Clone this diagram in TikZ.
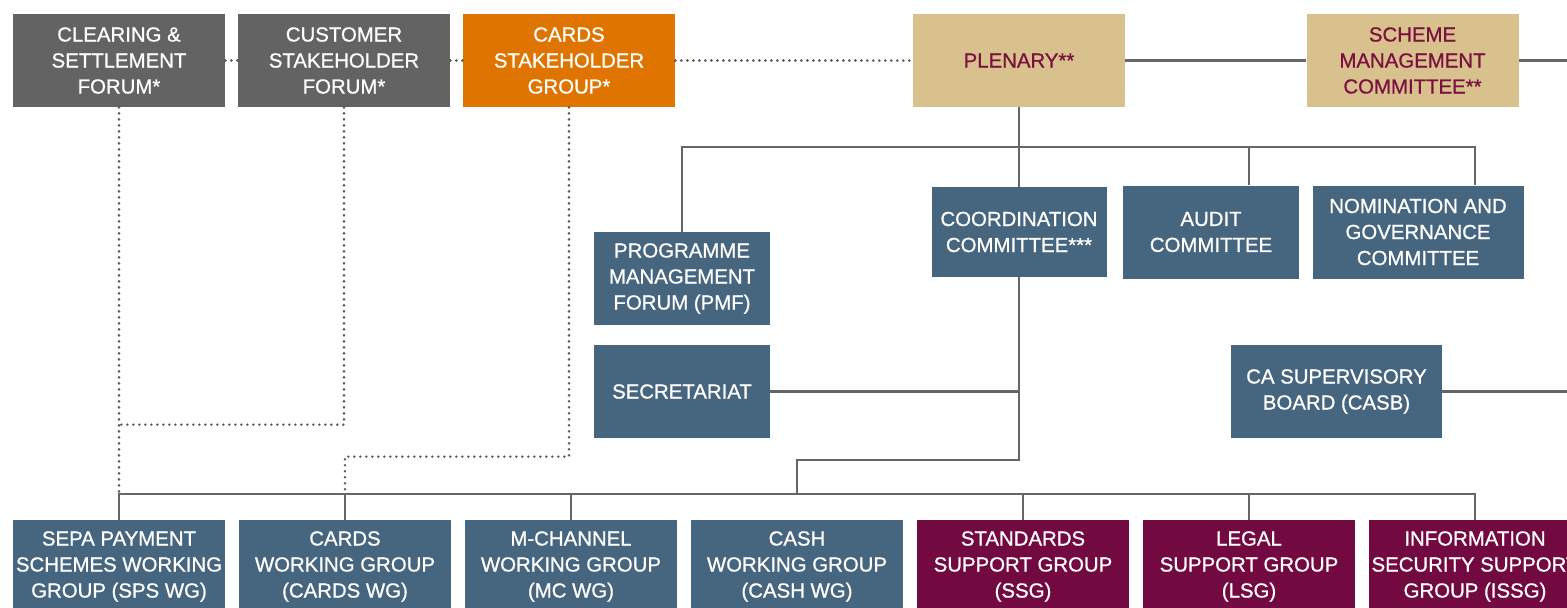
\documentclass[tikz,border=0pt]{standalone}
\usepackage{fontspec}
\setmainfont{Liberation Sans}[FakeBold=0.8]
\usepackage{tikz}
\usetikzlibrary{shapes.geometric, arrows}
\definecolor{forumgray}{HTML}{636363}
\definecolor{cardorange}{HTML}{DF7500}
\definecolor{boardtan}{HTML}{D8C18C}
\definecolor{boardtext}{HTML}{7B1142}
\definecolor{commblue}{HTML}{46657E}
\definecolor{supportred}{HTML}{720A41}
\definecolor{linegray}{HTML}{666666}
\tikzstyle{forum} = [rectangle, 
minimum width=4.24cm, 
minimum height=1.86cm, 
inner sep=0pt, 
align=center, 
text=white, 
font=\fontsize{11.6}{14.8}\selectfont, 
fill=forumgray]
\tikzstyle{board} = [forum, fill=boardtan, text=boardtext]
\tikzstyle{comm} = [forum, minimum width=3.52cm, fill=commblue]
\tikzstyle{wg} = [forum, fill=commblue]
\tikzstyle{sg} = [forum, fill=supportred]
\tikzstyle{link} = [draw=linegray, line width=1.2pt]
\tikzstyle{dots} = [draw=linegray!90!black, line width=1.6pt, line cap=round, dash pattern=on 0pt off 0.12cm]

\begin{document}
\begin{tikzpicture}[node distance=4.5cm]
\useasboundingbox (0,0) rectangle (31.34,-12.14);

% top row
\node (csf) [forum] at (2.38,-1.21) {CLEARING \&\\SETTLEMENT\\FORUM*};
\node (cust) [forum, right of=csf] {CUSTOMER\\STAKEHOLDER\\FORUM*};
\node (cardsg) [forum, right of=cust, fill=cardorange] {CARDS\\STAKEHOLDER\\GROUP*};
\node (plenary) [board, right of=cardsg, xshift=4.5cm] {PLENARY**};
\node (smc) [board, right of=plenary, xshift=3.37cm] {SCHEME\\MANAGEMENT\\COMMITTEE**};
\draw[dots] (csf) -- (cust);
\draw[dots] (cust) -- (cardsg);
\draw[dots] (cardsg) -- (plenary);
\draw[link] (plenary) -- (smc);
\draw[link] (smc.east) -- ++(1,0);

% committees
\node (coord) [comm, below of=plenary, yshift=1.07cm, minimum width=3.5cm, minimum height=1.8cm] {COORDINATION\\COMMITTEE***};
\node (audit) [comm, right of=coord, xshift=-0.66cm] {AUDIT\\COMMITTEE};
\node (ngc) [comm, right of=audit, xshift=-0.36cm, minimum width=4.22cm] {NOMINATION AND\\GOVERNANCE\\COMMITTEE};
\node (pmf) [comm, left of=coord, xshift=-2.24cm, yshift=-0.93cm] {PROGRAMME\\MANAGEMENT\\FORUM (PMF)};
\node (secr) [comm, below of=pmf, yshift=2.24cm] {SECRETARIAT};
\node (casb) [comm, right of=secr, xshift=8.59cm, minimum width=4.22cm] {CA SUPERVISORY\\BOARD (CASB)};

% working and support groups
\node (spswg) [wg, below of=csf, yshift=-5.62cm] {SEPA PAYMENT\\SCHEMES WORKING\\GROUP (SPS WG)};
\node (cardswg) [wg, right of=spswg, xshift=0.02cm] {CARDS\\WORKING GROUP\\(CARDS WG)};
\node (mcwg) [wg, right of=cardswg, xshift=0.02cm] {M-CHANNEL\\WORKING GROUP\\(MC WG)};
\node (cashwg) [wg, right of=mcwg, xshift=0.02cm] {CASH\\WORKING GROUP\\(CASH WG)};
\node (ssg) [sg, right of=cashwg, xshift=0.02cm] {STANDARDS\\SUPPORT GROUP\\(SSG)};
\node (lsg) [sg, right of=ssg, xshift=0.02cm] {LEGAL\\SUPPORT GROUP\\(LSG)};
\node (issg) [sg, right of=lsg, xshift=0.02cm] {INFORMATION\\SECURITY SUPPORT\\GROUP (ISSG)};

\coordinate (tbar) at ([yshift=-0.8cm]plenary.south);
\coordinate (jn) at ([yshift=1.2cm]cashwg.north);
\coordinate (bbar) at ([yshift=0.52cm]cashwg.north);
\coordinate (d1) at ([yshift=1.9cm]spswg.north);
\coordinate (d2) at ([yshift=1.26cm]cardswg.north);

\draw[link] (plenary) -- (coord);
\draw[link] (pmf.north) |- (tbar) -| (issg.north |- ngc.north);
\draw[link] (tbar) -| (lsg.north |- audit.north);
\draw[link] (coord.south) |- (jn) -- (bbar);
\draw[link] (secr.east) -- (secr.east -| coord.south);
\draw[link] (casb.east) -- ++(3,0);
\draw[link] (spswg.north) |- (bbar) -| (issg.north);
\draw[link] (cardswg.north) -- (cardswg.north |- bbar);
\draw[link] (mcwg.north) -- (mcwg.north |- bbar);
\draw[link] (ssg.north) -- (ssg.north |- bbar);
\draw[link] (lsg.north) -- (lsg.north |- bbar);

\draw[dots] (csf.south) -- (csf.south |- bbar);
\draw[dots] (cust.south) |- (d1);
\draw[dots] (cardsg.south) |- (d2) -- (cardswg.north |- bbar);

\end{tikzpicture}
\end{document}
